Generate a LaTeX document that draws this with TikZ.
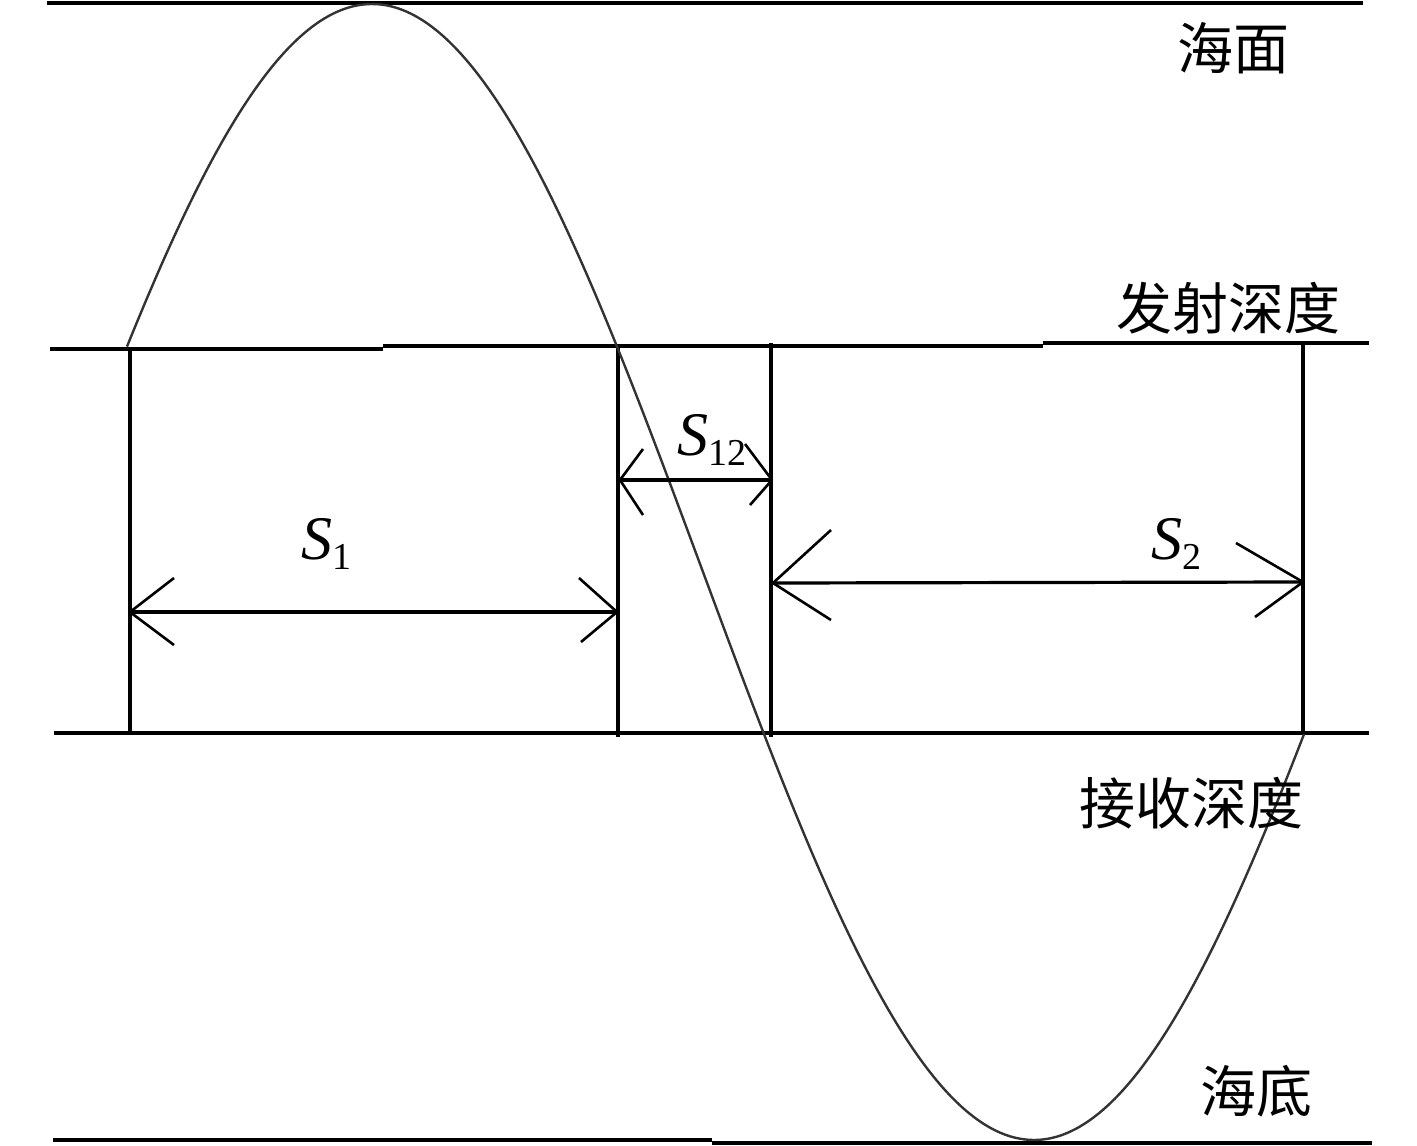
\documentclass[tikz,border=0pt]{standalone}
\usepackage{fontspec}
\setmainfont{Liberation Serif}
\newfontfamily\cjk{Noto Sans CJK SC}
\newcommand{\symS}[1]{{\fontsize{62}{62}\selectfont\itshape S}\raisebox{-10pt}{\fontsize{38}{38}\selectfont #1}}
\tikzset{
  sealine/.style={line width=3.8pt},
  wall/.style={line width=3.4pt},
  dimline/.style={line width=3.2pt},
  headline/.style={line width=2.6pt},
  ray/.style={line width=2.4pt, black!80},
  cjklabel/.style={font=\cjk\fontsize{56}{56}\selectfont, inner sep=0pt, anchor=center},
  symlabel/.style={anchor=base west, inner sep=0pt},
}
\begin{document}
\begin{tikzpicture}[x=1pt, y=-1pt]
\useasboundingbox (0,0) rectangle (1417,1146);
% horizontal levels
\coordinate (sL) at (47,3);    \coordinate (sR) at (1363,3);
\coordinate (tL) at (50,349);  \coordinate (tM1) at (383,349);
\coordinate (tM2) at (383,346); \coordinate (tM3) at (1043,346);
\coordinate (tM4) at (1043,343); \coordinate (tR) at (1369,343);
\coordinate (rL) at (54,733);  \coordinate (rR) at (1369,733);
\coordinate (bL) at (53,1140); \coordinate (bM1) at (712,1140);
\coordinate (bM2) at (712,1143); \coordinate (bR) at (1372,1143);
\draw[sealine] (sL) -- (sR);
\draw[sealine] (tL) -- (tM1);
\draw[sealine] (tM2) -- (tM3);
\draw[sealine] (tM4) -- (tR);
\draw[sealine] (rL) -- (rR);
\draw[sealine] (bL) -- (bM1);
\draw[sealine] (bM2) -- (bR);
% verticals
\coordinate (v1t) at (130,349);  \coordinate (v1b) at (130,733);
\coordinate (v2t) at (618,346);  \coordinate (v2b) at (618,737);
\coordinate (v3t) at (771,343);  \coordinate (v3b) at (771,737);
\coordinate (v4t) at (1303,343); \coordinate (v4b) at (1303,735);
\draw[wall] (v1t) -- (v1b);
\draw[wall] (v2t) -- (v2b);
\draw[wall] (v3t) -- (v3b);
\draw[wall] (v4t) -- (v4b);
% ray
\draw[ray] plot[domain=127:1304, samples=300, variable=\t] (\t, {572-568*cos((\t-372)/662*180)});
% S1 dimension
\coordinate (a1l) at (130,612); \coordinate (a1r) at (617,612);
\draw[dimline] (a1l) -- (a1r);
\draw[headline] (a1l) -- ++(44,-34) (a1l) -- ++(44,33);
\draw[headline] (a1r) -- ++(-38,-34) (a1r) -- ++(-36,30);
% S12 dimension
\coordinate (a2l) at (620,480); \coordinate (a2r) at (772,480);
\draw[dimline] (a2l) -- (a2r);
\draw[headline] (a2l) -- ++(23,-31) (a2l) -- ++(23,35);
\draw[headline] (a2r) -- ++(-27,-36) (a2r) -- ++(-22,25);
% S2 dimension
\coordinate (a3l) at (773,583); \coordinate (a3r) at (1303,582);
\draw[dimline] (a3l) -- (a3r);
\draw[headline] (a3l) -- ++(58,-53) (a3l) -- ++(58,37);
\draw[headline] (a3r) -- ++(-67,-39) (a3r) -- ++(-48,35);
% labels
\node[cjklabel] (surf) at (1233,48) {海面};
\node[cjklabel] (tx) at (1228,308) {发射深度};
\node[cjklabel] (rx) at (1191,803) {接收深度};
\node[cjklabel] (bot) at (1256,1091) {海底};
\node[symlabel] (ls1) at (301,559) {\symS{1}};
\node[symlabel] (ls12) at (677,455) {\symS{12}};
\node[symlabel] (ls2) at (1151,559) {\symS{2}};
\end{tikzpicture}
\end{document}
